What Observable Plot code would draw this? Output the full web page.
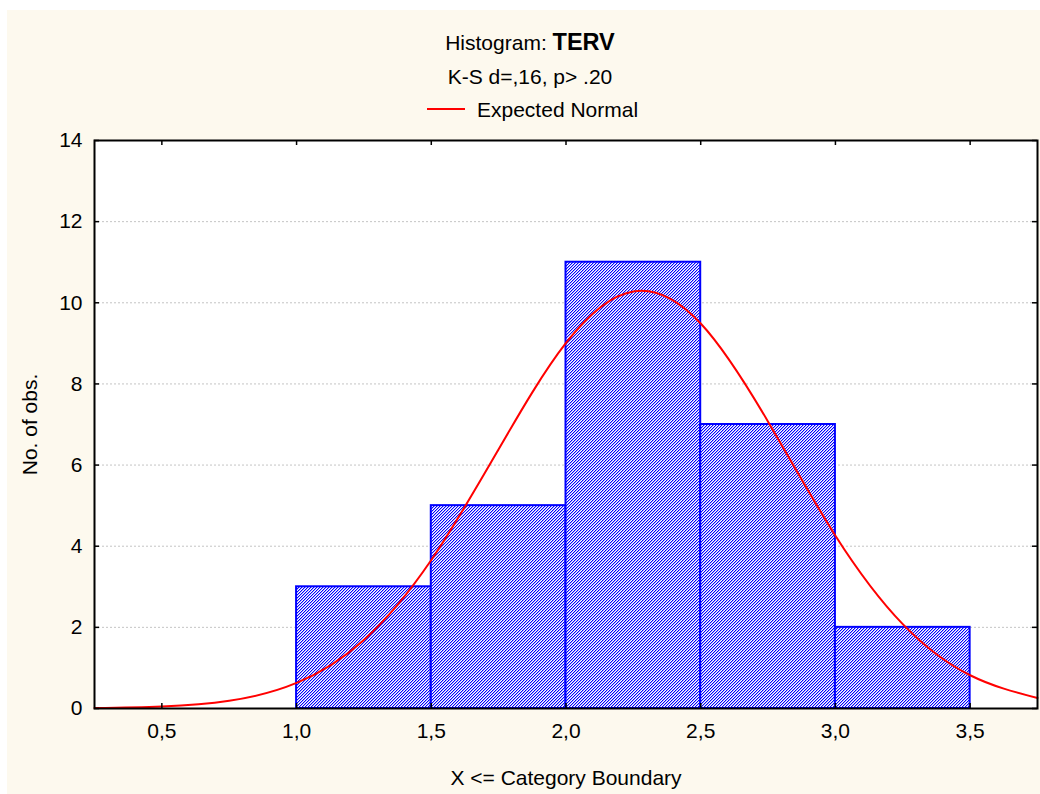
<!DOCTYPE html>
<html>
<head>
<meta charset="utf-8">
<script src="https://cdn.jsdelivr.net/npm/d3@7"></script>
<script src="https://cdn.jsdelivr.net/npm/@observablehq/plot@0.6"></script>
<style>
  html, body { margin: 0; padding: 0; background: #ffffff; }
  body { width: 1040px; height: 794px; position: relative; overflow: hidden; font-family: "Liberation Sans", Arial, sans-serif; }
  #panel { position: absolute; left: 7px; top: 10px; width: 1033px; height: 784px; background: #fdf9ee; }
  .hdr { position: absolute; left: 0; width: 1033px; text-align: center; font-size: 21px; line-height: 21px; color: #000; padding-left: 13px; box-sizing: border-box; white-space: pre; }
  .hdr b { font-size: 23.5px; }
  #legline { position: absolute; left: 420px; top: 98px; width: 38px; height: 2px; background: #ff0000; }
  #legtext { position: absolute; left: 470px; top: 89px; font-size: 21px; line-height: 21px; color: #000; white-space: pre; }
  #chart { position: absolute; left: 0; top: 110px; }
</style>
</head>
<body>
<div id="panel">
  <div class="hdr" style="top:22px">Histogram: <b>TERV</b></div>
  <div class="hdr" style="top:56px">K-S d=,16, p&gt; .20</div>
  <div id="legline"></div>
  <div id="legtext">Expected Normal</div>
  <div id="chart"></div>
</div>
<script>
// ---- data ----
const binStart = [1.0, 1.5, 2.0, 2.5, 3.0];
const binEnd   = [1.5, 2.0, 2.5, 3.0, 3.5];
const counts   = [3, 5, 11, 7, 2];

// Expected normal curve
const curveX = [0.25, 0.5, 0.75, 1.0, 1.25, 1.5, 1.75, 2.0, 2.25, 2.5, 2.75, 3.0, 3.25, 3.5, 3.75];
const curveY = [0.01, 0.05, 0.19, 0.63, 1.69, 3.66, 6.39, 9.01, 10.28, 9.49, 7.07, 4.26, 2.08, 0.82, 0.26];

const xTicks = [0.5, 1.0, 1.5, 2.0, 2.5, 3.0, 3.5];
const xTickLabels = ["0,5", "1,0", "1,5", "2,0", "2,5", "3,0", "3,5"];
const yTicks = [0, 2, 4, 6, 8, 10, 12, 14];
const gridTicks = [2, 4, 6, 8, 10, 12];

const bars = binStart.map((s, i) => ({x1: s, x2: binEnd[i], y: counts[i]}));
const curve = curveX.map((x, i) => ({x, y: curveY[i]}));

const W = 1033, H = 674;
const mL = 87, mR = 3, mT = 20, mB = 86;
const fw = W - mL - mR, fh = H - mT - mB;
const tk = 5;

const chart = Plot.plot({
  width: W, height: H,
  marginLeft: mL, marginRight: mR, marginTop: mT, marginBottom: mB,
  style: {background: "transparent", overflow: "visible", fontFamily: "Liberation Sans, Arial, sans-serif", fontSize: "21px", color: "#000"},
  x: {domain: [0.25, 3.75]},
  y: {domain: [0, 14]},
  marks: [
    Plot.frame({fill: "white", stroke: "none"}),
    Plot.gridY(gridTicks, {stroke: "#c4c4c4", strokeOpacity: 1, strokeDasharray: "2,2", strokeWidth: 1}),
    Plot.rect(bars, {x1: "x1", x2: "x2", y1: 0, y2: "y", fill: "url(#hatch)", stroke: "#0000ff", strokeWidth: 2}),
    Plot.line(curve, {x: "x", y: "y", curve: "natural", stroke: "#ff0000", strokeWidth: 2}),
    Plot.tickY(yTicks, {y: d => d, insetRight: fw - tk, stroke: "#000", strokeWidth: 1.5}),
    Plot.tickY(yTicks, {y: d => d, insetLeft: fw - tk, stroke: "#000", strokeWidth: 1.5}),
    Plot.tickX(xTicks, {x: d => d, insetTop: fh - tk, stroke: "#000", strokeWidth: 1.5}),
    Plot.tickX(xTicks, {x: d => d, insetBottom: fh - tk, stroke: "#000", strokeWidth: 1.5}),
    Plot.frame({stroke: "#000", strokeWidth: 2}),
    Plot.axisX(xTicks, {tickSize: 0, tickPadding: 15, tickFormat: (d, i) => xTickLabels[i],
      label: "X <= Category Boundary", labelAnchor: "center", labelOffset: 76, labelArrow: "none"}),
    Plot.axisY(yTicks, {tickSize: 0, tickPadding: 12, label: "No. of obs.", labelAnchor: "center", labelOffset: 72, labelArrow: "none"})
  ]
});

// pixel hatch pattern ("/" diagonals)
const ns = "http://www.w3.org/2000/svg";
const defs = document.createElementNS(ns, "defs");
const pat = document.createElementNS(ns, "pattern");
pat.setAttribute("id", "hatch");
pat.setAttribute("patternUnits", "userSpaceOnUse");
pat.setAttribute("width", "3");
pat.setAttribute("height", "3");
pat.setAttribute("shape-rendering", "crispEdges");
for (let x = 0; x < 3; x++) {
  for (let y = 0; y < 3; y++) {
    const r = document.createElementNS(ns, "rect");
    r.setAttribute("x", x); r.setAttribute("y", y);
    r.setAttribute("width", 1); r.setAttribute("height", 1);
    const k = (x + y) % 3;
    r.setAttribute("fill", k === 2 ? "#0000ff" : k === 0 ? "#a8a8ff" : "#ffffff");
    pat.appendChild(r);
  }
}
defs.appendChild(pat);
chart.insertBefore(defs, chart.firstChild);

document.getElementById("chart").appendChild(chart);
</script>
</body>
</html>
